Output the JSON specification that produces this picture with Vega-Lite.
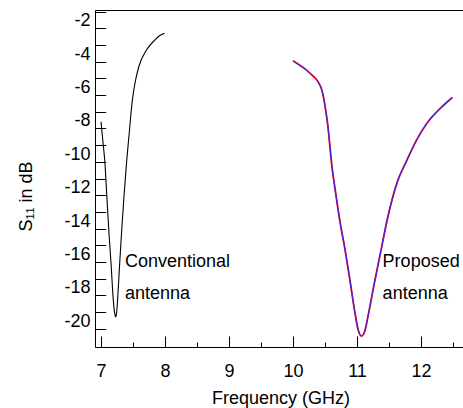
{
  "$schema": "https://vega.github.io/schema/vega-lite/v6.json",
  "width": 368,
  "height": 337,
  "autosize": {"type": "none"},
  "padding": {"left": 95, "top": 10, "right": 0, "bottom": 61},
  "background": "white",
  "config": {
    "view": {"stroke": null},
    "font": "Liberation Sans",
    "axis": {
      "domainColor": "black", "tickColor": "black", "labelColor": "black", "titleColor": "black",
      "labelFont": "Liberation Sans", "titleFont": "Liberation Sans",
      "labelFontSize": 18, "titleFontSize": 18, "titleFontWeight": "normal",
      "grid": false, "domainWidth": 1, "tickWidth": 1, "labelFlush": false, "labelOverlap": false
    }
  },
  "datasets": {
    "conv": [
      {"f": 7.00, "s": -7.6}, {"f": 7.03, "s": -8.8}, {"f": 7.06, "s": -10.0}, {"f": 7.09, "s": -12.0},
      {"f": 7.125, "s": -14.3}, {"f": 7.16, "s": -16.3}, {"f": 7.19, "s": -18.2}, {"f": 7.215, "s": -19.1},
      {"f": 7.23, "s": -19.3}, {"f": 7.245, "s": -19.0}, {"f": 7.26, "s": -18.2}, {"f": 7.29, "s": -16.2},
      {"f": 7.32, "s": -14.3}, {"f": 7.36, "s": -12.0}, {"f": 7.40, "s": -10.0}, {"f": 7.44, "s": -8.3},
      {"f": 7.49, "s": -6.3}, {"f": 7.53, "s": -5.3}, {"f": 7.59, "s": -4.3}, {"f": 7.71, "s": -3.3},
      {"f": 7.84, "s": -2.7}, {"f": 7.92, "s": -2.43}, {"f": 7.99, "s": -2.3}
    ],
    "prop": [
      {"f": 10.00, "s": -3.94}, {"f": 10.10, "s": -4.2}, {"f": 10.21, "s": -4.5}, {"f": 10.31, "s": -4.85},
      {"f": 10.40, "s": -5.25}, {"f": 10.45, "s": -5.7}, {"f": 10.48, "s": -6.2}, {"f": 10.51, "s": -6.9},
      {"f": 10.54, "s": -7.7}, {"f": 10.57, "s": -8.8}, {"f": 10.60, "s": -10.0}, {"f": 10.66, "s": -11.7},
      {"f": 10.73, "s": -13.5}, {"f": 10.81, "s": -15.2}, {"f": 10.89, "s": -17.1}, {"f": 10.97, "s": -19.1},
      {"f": 11.02, "s": -20.1}, {"f": 11.07, "s": -20.45}, {"f": 11.125, "s": -20.1}, {"f": 11.18, "s": -19.1},
      {"f": 11.28, "s": -17.1}, {"f": 11.37, "s": -15.4}, {"f": 11.47, "s": -13.5}, {"f": 11.63, "s": -11.2},
      {"f": 11.78, "s": -9.9}, {"f": 11.93, "s": -8.7}, {"f": 12.09, "s": -7.7}, {"f": 12.30, "s": -6.8},
      {"f": 12.49, "s": -6.14}
    ],
    "labels": [
      {"f": 7.375, "s": -16.0, "t": "Conventional"},
      {"f": 7.375, "s": -17.9, "t": "antenna"},
      {"f": 11.40, "s": -16.0, "t": "Proposed"},
      {"f": 11.40, "s": -17.9, "t": "antenna"}
    ]
  },
  "resolve": {"axis": {"x": "independent", "y": "independent"}},
  "layer": [
    {
      "data": {"name": "conv"},
      "mark": {"type": "line", "color": "black", "strokeWidth": 1.1, "interpolate": "monotone"},
      "encoding": {
        "x": {"field": "f", "type": "quantitative", "scale": {"domain": [6.906, 12.656], "nice": false, "zero": false},
          "axis": {"orient": "bottom", "values": [7, 8, 9, 10, 11, 12], "ticks": false, "tickSize": 0, "labelPadding": 29.3,
            "labelBaseline": "alphabetic", "labelOverlap": false, "domain": true,
            "title": "Frequency (GHz)", "titleBaseline": "alphabetic",
            "titleX": 185.5, "titleY": 56.6, "titleAnchor": "middle", "titleAlign": "center"}},
        "y": {"field": "s", "type": "quantitative", "scale": {"domain": [-21.1, -0.898], "nice": false, "zero": false},
          "axis": {"orient": "left", "values": [-20, -18, -16, -14, -12, -10, -8, -6, -4, -2],
            "labelExpr": "datum.value + ''",
            "ticks": false, "tickSize": 0, "labelPadding": 5, "labelOffset": -7.5, "labelAlign": "right", "labelBaseline": "middle",
            "labelOverlap": false, "domain": true,
            "title": "S₁₁ in dB", "titleAngle": 270, "titleX": -63.5, "titleY": 186, "titleAlign": "center", "titleBaseline": "alphabetic"}}
      }
    },
    {
      "data": {"name": "prop"},
      "mark": {"type": "line", "color": "#e0002a", "strokeWidth": 1.8, "interpolate": "monotone"},
      "encoding": {
        "x": {"field": "f", "type": "quantitative",
          "axis": {"orient": "bottom", "offset": -11, "values": [7, 8, 9, 10, 11, 12], "tickSize": 11, "labels": false, "domain": false, "title": null}},
        "y": {"field": "s", "type": "quantitative",
          "axis": {"orient": "left", "offset": -10.7, "values": [-20, -19, -18, -17, -16, -15, -14, -13, -12, -11, -10, -9, -8, -7, -6, -5, -4, -3, -2, -1],
            "tickSize": 10.7, "labels": false, "domain": false, "title": null}}
      }
    },
    {
      "data": {"name": "prop"},
      "mark": {"type": "line", "color": "#2a2aff", "strokeWidth": 1.0, "interpolate": "monotone"},
      "encoding": {
        "x": {"field": "f", "type": "quantitative",
          "axis": {"orient": "bottom", "offset": -5, "values": [7.5, 8.5, 9.5, 10.5, 11.5, 12.5], "tickSize": 5, "labels": false, "domain": false, "title": null}},
        "y": {"field": "s", "type": "quantitative", "axis": null}
      }
    },
    {
      "mark": {"type": "rule", "color": "black", "strokeWidth": 1},
      "encoding": {"y": {"datum": -10, "axis": null}}
    },
    {
      "data": {"name": "labels"},
      "mark": {"type": "text", "align": "left", "baseline": "middle", "fontSize": 18, "font": "Liberation Sans", "color": "black"},
      "encoding": {
        "x": {"field": "f", "type": "quantitative",
          "axis": {"orient": "top", "ticks": false, "labels": false, "domain": true, "title": null}},
        "y": {"field": "s", "type": "quantitative", "axis": null},
        "text": {"field": "t"}
      }
    }
  ]
}
